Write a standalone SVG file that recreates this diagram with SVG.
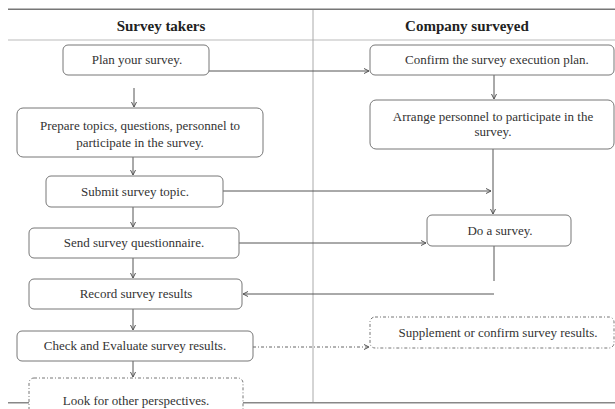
<svg xmlns="http://www.w3.org/2000/svg" width="615" height="409" viewBox="0 0 615 409">
<style>
.box{fill:#fff;stroke:#777;stroke-width:1}
.dash{fill:#fff;stroke:#777;stroke-width:1;stroke-dasharray:3 2 1 2}
.t{font-family:"Liberation Serif",serif;font-size:13px;fill:#333;text-anchor:middle}
.h{font-family:"Liberation Serif",serif;font-size:15px;font-weight:bold;fill:#222;text-anchor:middle}
.c{fill:none;stroke:#555;stroke-width:1}
.cd{fill:none;stroke:#666;stroke-width:1;stroke-dasharray:3 2 1 2}
.rule{fill:none}
</style>
<defs>
<marker id="a" markerWidth="8" markerHeight="8" refX="6" refY="4" orient="auto" markerUnits="userSpaceOnUse">
<path d="M1,1.5 L6,4 L1,6.5" fill="none" stroke="#555" stroke-width="1"/>
</marker>
</defs>
<g id="frame">
<rect x="8" y="8.5" width="607" height="1.5" fill="#777"/>
<line class="rule" x1="8" y1="40" x2="615" y2="40" stroke="#bbb"/>
<line class="rule" x1="313" y1="10" x2="313" y2="403" stroke="#aaa"/>
<rect x="8" y="402" width="607" height="1.5" fill="#888"/>
<text class="h" x="161" y="31">Survey takers</text>
<text class="h" x="467" y="31">Company surveyed</text>
</g>
<g id="connectors">
<path class="c" d="M209,71 H369" marker-end="url(#a)"/>
<path class="c" d="M134,88 V107" marker-end="url(#a)"/>
<path class="c" d="M494,75 V99" marker-end="url(#a)"/>
<path class="c" d="M133,157 V175" marker-end="url(#a)"/>
<path class="c" d="M223,191 H491" marker-end="url(#a)"/>
<path class="c" d="M493,149 V214" marker-end="url(#a)"/>
<path class="c" d="M133,207 V227" marker-end="url(#a)"/>
<path class="c" d="M239,243 H426" marker-end="url(#a)"/>
<path class="c" d="M133,258 V278" marker-end="url(#a)"/>
<path class="c" d="M494,246 V281" stroke="#777"/>
<path class="c" d="M494,294 H243" marker-end="url(#a)"/>
<path class="c" d="M133,309 V330" marker-end="url(#a)"/>
<path class="cd" d="M253,347 H369" marker-end="url(#a)"/>
<path class="c" d="M133,361 V377" marker-end="url(#a)"/>
</g>
<g id="plan">
<rect class="box" x="63" y="45" width="146" height="30" rx="5"/>
<text class="t" x="137" y="64">Plan your survey.</text>
</g>
<g id="confirm">
<rect class="box" x="370" y="45" width="244" height="30" rx="5"/>
<text class="t" x="497" y="64">Confirm the survey execution plan.</text>
</g>
<g id="prepare">
<rect class="box" x="17" y="108" width="246" height="49" rx="6"/>
<text class="t" x="140" y="130">Prepare topics, questions, personnel to</text>
<text class="t" x="140" y="147">participate in the survey.</text>
</g>
<g id="arrange">
<rect class="box" x="370" y="100" width="244" height="49" rx="6"/>
<text class="t" x="493" y="121">Arrange personnel to participate in the</text>
<text class="t" x="493" y="136">survey.</text>
</g>
<g id="submit">
<rect class="box" x="46" y="176" width="177" height="31" rx="5"/>
<text class="t" x="135" y="196">Submit survey topic.</text>
</g>
<g id="do">
<rect class="box" x="427" y="215" width="144" height="31" rx="5"/>
<text class="t" x="500" y="235">Do a survey.</text>
</g>
<g id="send">
<rect class="box" x="29" y="228" width="210" height="30" rx="5"/>
<text class="t" x="134" y="247">Send survey questionnaire.</text>
</g>
<g id="record">
<rect class="box" x="29" y="279" width="213" height="30" rx="5"/>
<text class="t" x="136" y="298">Record survey results</text>
</g>
<g id="supplement">
<rect class="dash" x="370" y="317" width="244" height="31" rx="5"/>
<text class="t" x="498" y="337">Supplement or confirm survey results.</text>
</g>
<g id="check">
<rect class="box" x="17" y="331" width="236" height="30" rx="5"/>
<text class="t" x="135" y="350">Check and Evaluate survey results.</text>
</g>
<g id="look">
<rect class="dash" x="29" y="378" width="214" height="40" rx="5"/>
<text class="t" x="136" y="405">Look for other perspectives.</text>
</g>
</svg>
